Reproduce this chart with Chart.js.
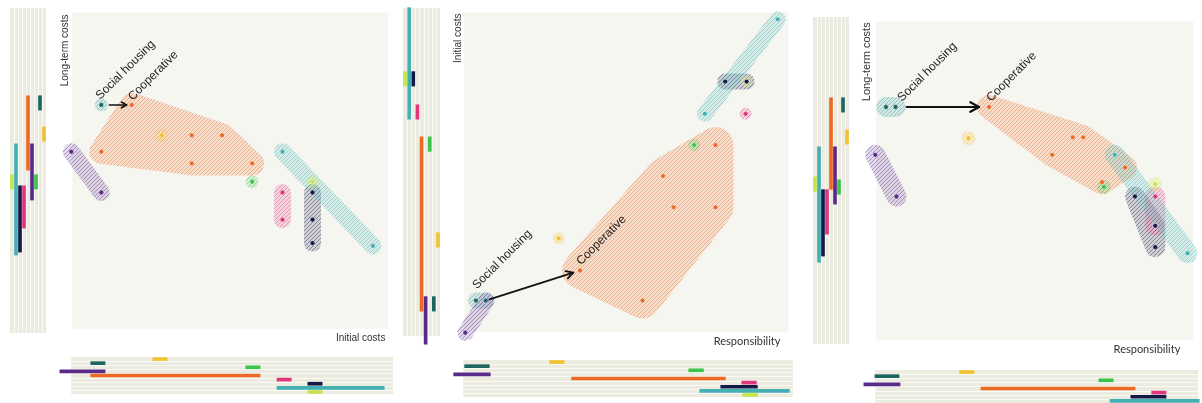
<!DOCTYPE html>
<html>
<head>
<meta charset="utf-8">
<script src="https://cdn.jsdelivr.net/npm/chart.js@4.4.1/dist/chart.umd.min.js"></script>
<style>
  html, body { margin: 0; padding: 0; background: #ffffff; width: 1202px; height: 403px; overflow: hidden; }
  canvas { position: absolute; }
</style>
</head>
<body>
<script>
// ---- groups -------------------------------------------------------------
const groupKeys = ['social', 'purple', 'coop', 'yellow', 'navy', 'pink', 'teal', 'green', 'lime'];
const groupColors = {
  social: '#1e6561', purple: '#5b2b8c', coop: '#ee6a24', yellow: '#f1c232',
  navy: '#15194a', pink: '#e0377c', teal: '#43b0b4', green: '#3bc44b', lime: '#c3e64c'
};
// hatch colour of each group's hull (the social housing hull reads lighter)
const hullColors = { ...groupColors, social: '#2f9a98' };
// lane order of the marginal range strips (top to bottom / right to left)
const stripOrder = ['yellow', 'social', 'green', 'purple', 'coop', 'pink', 'navy', 'teal', 'lime'];

// ---- Initial costs (x) vs Long-term costs (y) ----------------------------
const costGroup = ['social', 'coop', 'coop', 'coop', 'coop', 'coop', 'coop', 'yellow', 'purple', 'purple',
                   'green', 'pink', 'pink', 'navy', 'navy', 'navy', 'teal', 'teal', 'lime'];
const costX = [9.2, 18.8, 37.8, 47.4, 9.2, 37.8, 56.9, 28.3, -0.3, 9.2,
               56.9, 66.5, 66.5, 76.0, 76.0, 76.0, 66.5, 95.1, 76.0];
const costY = [70.8, 70.8, 61.2, 61.2, 56.0, 52.3, 52.3, 61.2, 56.0, 43.1,
               46.5, 43.1, 34.5, 43.1, 34.5, 27.1, 56.0, 26.2, 46.5];

// ---- Responsibility (x) vs Initial costs (y) -----------------------------
const respInitGroup = ['social', 'social', 'purple', 'purple', 'coop', 'coop', 'coop', 'coop', 'coop', 'coop',
                       'yellow', 'navy', 'navy', 'pink', 'teal', 'teal', 'green', 'lime'];
const respInitX = [3.6, 6.6, 6.9, 0.3, 35.7, 61.3, 77.5, 64.6, 77.5, 55.0,
                   29.1, 80.5, 87.1, 86.8, 96.7, 74.2, 70.9, 87.1];
const respInitY = [9.8, 9.8, 9.8, -0.3, 19.2, 48.8, 58.5, 39.0, 39.0, 9.8,
                   29.3, 78.4, 78.4, 68.3, 97.9, 68.3, 58.5, 78.4];

// ---- Responsibility (x) vs Long-term costs (y) ---------------------------
const respLongGroup = ['social', 'social', 'purple', 'purple', 'coop', 'coop', 'coop', 'coop', 'coop', 'coop',
                       'yellow', 'navy', 'navy', 'navy', 'pink', 'pink', 'teal', 'teal', 'green', 'lime'];
const respLongX = [3.1, 6.1, -0.3, 6.4, 35.6, 62.0, 65.3, 55.5, 78.5, 71.2,
                   29.1, 81.6, 88.0, 88.0, 88.0, 88.0, 75.2, 98.2, 71.8, 88.0];
const respLongY = [73.1, 73.1, 58.1, 45.0, 73.1, 63.6, 63.6, 58.1, 54.1, 49.5,
                   63.3, 45.0, 35.8, 29.1, 45.0, 35.8, 58.1, 27.2, 48.0, 48.9];

const annotationText = { social: 'Social housing', coop: 'Cooperative' };

// ---- panel layout -------------------------------------------------------
const panels = [
  {
    xTitle: 'Initial costs', yTitle: 'Long-term costs',
    group: costGroup, xs: costX, ys: costY,
    bg: { x: 68, y: 8, w: 325, h: 325 }, main: { x: 47, y: 0, w: 353, h: 356 },
    left: { x: 10, w: 36 }, bottom: { y: 357, h: 37 },
    pad: { base: 8.5, coop: 12, single: 6.5 },
    arrow: { width: 1.6, head: 6, trimStart: 8, trimEnd: 5 },
    socialLabel: { dx: -1, dy: -5 }, coopLabel: { dx: 1, dy: -4 },
    yTitleDx: -7, yTitleTop: 2, yTitleFont: '10px "Liberation Sans", Arial, sans-serif',
    xTitleDx: -3, xTitleDy: 9, xTitleFont: '10px "Liberation Sans", Arial, sans-serif'
  },
  {
    xTitle: 'Responsibility', yTitle: 'Initial costs',
    group: respInitGroup, xs: respInitX, ys: respInitY,
    bg: { x: 460, y: 8, w: 333, h: 328 }, main: { x: 441, y: 0, w: 361, h: 359 },
    left: { x: 403, w: 37 }, bottom: { y: 360, h: 37 },
    pad: { base: 8, coop: 18, single: 6 },
    arrow: { width: 1.8, head: 8, trimStart: 4, trimEnd: 7 },
    socialLabel: { dx: 1, dy: -11 }, coopLabel: { dx: 1, dy: -5 },
    yTitleDx: -6, yTitleTop: 1, yTitleFont: '10px "Liberation Sans", Arial, sans-serif',
    xTitleDx: -8, xTitleDy: 10, xTitleFont: '11px Lato, "Open Sans", sans-serif'
  },
  {
    xTitle: 'Responsibility', yTitle: 'Long-term costs',
    group: respLongGroup, xs: respLongX, ys: respLongY,
    bg: { x: 872, y: 17, w: 326, h: 327 }, main: { x: 850, y: 0, w: 352, h: 368 },
    left: { x: 813, w: 36 }, bottom: { y: 370, h: 37 },
    pad: { base: 10, coop: 12, single: 7 },
    arrow: { width: 2.2, head: 10, trimStart: 11, trimEnd: 10 },
    socialLabel: { dx: 16, dy: -5 }, coopLabel: { dx: 2, dy: -5 },
    yTitleDx: -9, yTitleTop: 1, yTitleFont: '11px "Liberation Sans", Arial, sans-serif',
    xTitleDx: -13, xTitleDy: 10, xTitleFont: '11px Lato, "Open Sans", sans-serif'
  }
];

const MAIN_BG = '#f6f6f1';
const STRIP_BG = '#ebebe0';
const STRIP_LINE = '#fafaf6';
const RANGE_PAD = 2.2;   // half-width of a range bar beyond its extreme points (data units)

function rgba(hex, a) {
  const n = parseInt(hex.slice(1), 16);
  return `rgba(${(n >> 16) & 255},${(n >> 8) & 255},${n & 255},${a})`;
}

function convexHull(points) {
  const pts = points.slice().sort((a, b) => a.x - b.x || a.y - b.y);
  if (pts.length < 3) return pts;
  const cross = (o, a, b) => (a.x - o.x) * (b.y - o.y) - (a.y - o.y) * (b.x - o.x);
  const lower = [];
  for (const p of pts) {
    while (lower.length >= 2 && cross(lower[lower.length - 2], lower[lower.length - 1], p) <= 0) lower.pop();
    lower.push(p);
  }
  const upper = [];
  for (let i = pts.length - 1; i >= 0; i--) {
    const p = pts[i];
    while (upper.length >= 2 && cross(upper[upper.length - 2], upper[upper.length - 1], p) <= 0) upper.pop();
    upper.push(p);
  }
  upper.pop(); lower.pop();
  return lower.concat(upper);
}

function makeCanvas(x, y, w, h) {
  const c = document.createElement('canvas');
  c.width = w; c.height = h;
  c.style.left = x + 'px'; c.style.top = y + 'px';
  c.style.width = w + 'px'; c.style.height = h + 'px';
  document.body.appendChild(c);
  return c;
}

function groupRange(p, key, values) {
  const v = values.filter((_, i) => p.group[i] === key);
  return [Math.min(...v) - RANGE_PAD, Math.max(...v) + RANGE_PAD];
}

const baseOptions = {
  responsive: false, animation: false, devicePixelRatio: 1,
  layout: { padding: 0 },
  plugins: { legend: { display: false }, tooltip: { enabled: false } },
  events: []
};

panels.forEach(p => {
  // scale limits so that 0..100 spans the shaded plotting field
  const xMin = (p.main.x - p.bg.x) / p.bg.w * 100;
  const xMax = (p.main.x + p.main.w - p.bg.x) / p.bg.w * 100;
  const yMax = 100 + (p.bg.y - p.main.y) / p.bg.h * 100;
  const yMin = 100 - (p.main.y + p.main.h - p.bg.y) / p.bg.h * 100;

  // ---------- main scatter ----------
  const datasets = groupKeys.map(k => ({
    label: k,
    data: p.group.map((g, i) => g === k ? { x: p.xs[i], y: p.ys[i] } : null).filter(Boolean),
    backgroundColor: groupColors[k],
    borderColor: rgba('#ffffff', 0.5),
    borderWidth: 0.8,
    pointRadius: 2.4,
    clip: false
  }));

  const fieldPlugin = {
    id: 'field',
    beforeDatasetsDraw(chart) {
      const { ctx, scales } = chart;
      const x0 = scales.x.getPixelForValue(0), x1 = scales.x.getPixelForValue(100);
      const y0 = scales.y.getPixelForValue(100), y1 = scales.y.getPixelForValue(0);
      ctx.save();
      ctx.fillStyle = MAIN_BG;
      ctx.fillRect(x0, y0, x1 - x0, y1 - y0);
      ctx.restore();
    }
  };

  // hatched, rounded hull around every group's points
  const hullPlugin = {
    id: 'groupHulls',
    beforeDatasetsDraw(chart) {
      const { ctx } = chart;
      const W = chart.canvas.width, H = chart.canvas.height;
      const off = document.createElement('canvas');
      off.width = W; off.height = H;
      const o = off.getContext('2d');
      const m = document.createElement('canvas');
      m.width = W; m.height = H;
      const mc = m.getContext('2d');
      chart.data.datasets.forEach((ds, i) => {
        const meta = chart.getDatasetMeta(i);
        const pts = meta.data.map(el => ({ x: el.x, y: el.y }));
        if (!pts.length) return;
        const key = ds.label;
        const col = hullColors[key];
        const r = pts.length === 1 ? p.pad.single : (key === 'coop' ? p.pad.coop : p.pad.base);
        // texture: light tint plus diagonal hatching
        o.globalCompositeOperation = 'source-over';
        o.clearRect(0, 0, W, H);
        o.fillStyle = rgba(col, 0.17);
        o.fillRect(0, 0, W, H);
        o.strokeStyle = rgba(col, 0.42);
        o.lineWidth = 1; o.lineCap = 'butt';
        o.beginPath();
        for (let s = -H; s < W + H; s += 4) { o.moveTo(s, H); o.lineTo(s + H, 0); }
        o.stroke();
        // rounded hull mask: hull polygon widened by radius r
        mc.clearRect(0, 0, W, H);
        mc.fillStyle = '#000'; mc.strokeStyle = '#000';
        mc.lineJoin = 'round'; mc.lineCap = 'round'; mc.lineWidth = 2 * r;
        const hull = convexHull(pts);
        mc.beginPath();
        if (hull.length === 1) {
          mc.arc(hull[0].x, hull[0].y, r, 0, Math.PI * 2);
          mc.fill();
        } else {
          mc.moveTo(hull[0].x, hull[0].y);
          for (let j = 1; j < hull.length; j++) mc.lineTo(hull[j].x, hull[j].y);
          mc.closePath();
          mc.fill(); mc.stroke();
        }
        o.globalCompositeOperation = 'destination-in';
        o.drawImage(m, 0, 0);
        o.globalCompositeOperation = 'source-over';
        ctx.drawImage(off, 0, 0);
      });
    }
  };

  const annotatePlugin = {
    id: 'annotate',
    afterDatasetsDraw(chart) {
      const { ctx, scales } = chart;
      const metaOf = k => chart.getDatasetMeta(groupKeys.indexOf(k));
      const soc = metaOf('social').data;
      const socFirst = soc[0];
      const socLast = soc.reduce((a, b) => (b.x > a.x ? b : a), soc[0]);
      const coop = metaOf('coop').data[0];
      ctx.save();
      // arrow from social housing to cooperative
      const dx = coop.x - socLast.x, dy = coop.y - socLast.y;
      const len = Math.hypot(dx, dy), ux = dx / len, uy = dy / len;
      const sx = socLast.x + ux * p.arrow.trimStart, sy = socLast.y + uy * p.arrow.trimStart;
      const ex = coop.x - ux * p.arrow.trimEnd, ey = coop.y - uy * p.arrow.trimEnd;
      ctx.strokeStyle = '#111'; ctx.lineWidth = p.arrow.width;
      ctx.lineCap = 'round'; ctx.lineJoin = 'round';
      ctx.beginPath(); ctx.moveTo(sx, sy); ctx.lineTo(ex, ey); ctx.stroke();
      const a = Math.atan2(uy, ux), h = p.arrow.head, spread = 0.5;
      ctx.beginPath();
      ctx.moveTo(ex - h * Math.cos(a - spread), ey - h * Math.sin(a - spread));
      ctx.lineTo(ex, ey);
      ctx.lineTo(ex - h * Math.cos(a + spread), ey - h * Math.sin(a + spread));
      ctx.stroke();
      // slanted labels
      ctx.fillStyle = '#222';
      ctx.font = '12px "Liberation Sans", Arial, sans-serif';
      ctx.textAlign = 'left'; ctx.textBaseline = 'alphabetic';
      [[socFirst, p.socialLabel, annotationText.social], [coop, p.coopLabel, annotationText.coop]].forEach(([el, off, txt]) => {
        ctx.save();
        ctx.translate(el.x + off.dx, el.y + off.dy);
        ctx.rotate(-Math.PI / 4);
        ctx.fillText(txt, 0, 0);
        ctx.restore();
      });
      // axis titles
      const left = scales.x.getPixelForValue(0), right = scales.x.getPixelForValue(100);
      const top = scales.y.getPixelForValue(100), bottom = scales.y.getPixelForValue(0);
      ctx.fillStyle = '#333';
      ctx.font = p.yTitleFont;
      ctx.save();
      ctx.translate(left + p.yTitleDx, top + p.yTitleTop);
      ctx.rotate(-Math.PI / 2);
      ctx.textAlign = 'right'; ctx.textBaseline = 'middle';
      ctx.fillText(p.yTitle, 0, 0);
      ctx.restore();
      ctx.font = p.xTitleFont;
      ctx.textAlign = 'right'; ctx.textBaseline = 'middle';
      ctx.fillText(p.xTitle, right + p.xTitleDx, bottom + p.xTitleDy);
      ctx.restore();
    }
  };

  new Chart(makeCanvas(p.main.x, p.main.y, p.main.w, p.main.h), {
    type: 'scatter',
    data: { datasets },
    options: {
      ...baseOptions,
      scales: {
        x: { type: 'linear', display: false, min: xMin, max: xMax },
        y: { type: 'linear', display: false, min: yMin, max: yMax }
      }
    },
    plugins: [fieldPlugin, hullPlugin, annotatePlugin]
  });

  // ---------- vertical range strip (y extent of each group) ----------
  const leftOrder = stripOrder.slice().reverse();
  const vLanes = {
    id: 'vLanes',
    beforeDatasetsDraw(chart) {
      const { ctx, chartArea, scales } = chart;
      const t = scales.y.getPixelForValue(100), b = scales.y.getPixelForValue(0);
      const n = leftOrder.length, w = (chartArea.right - chartArea.left) / n;
      ctx.save();
      ctx.fillStyle = STRIP_BG;
      ctx.fillRect(chartArea.left, t, chartArea.right - chartArea.left, b - t);
      ctx.strokeStyle = STRIP_LINE; ctx.lineWidth = 1;
      for (let i = 1; i < n; i++) {
        const x = Math.round(chartArea.left + i * w) + 0.5;
        ctx.beginPath(); ctx.moveTo(x, t); ctx.lineTo(x, b); ctx.stroke();
      }
      ctx.restore();
    }
  };
  new Chart(makeCanvas(p.left.x, p.main.y, p.left.w, p.main.h), {
    type: 'bar',
    data: {
      labels: leftOrder,
      datasets: [{
        data: leftOrder.map(k => groupRange(p, k, p.ys)),
        backgroundColor: leftOrder.map(k => groupColors[k]),
        borderWidth: 0, barThickness: 3, borderSkipped: false
      }]
    },
    options: {
      ...baseOptions,
      scales: {
        x: { type: 'category', display: false, offset: true },
        y: { type: 'linear', display: false, min: yMin, max: yMax }
      }
    },
    plugins: [vLanes]
  });

  // ---------- horizontal range strip (x extent of each group) ----------
  const hLanes = {
    id: 'hLanes',
    beforeDatasetsDraw(chart) {
      const { ctx, chartArea, scales } = chart;
      const l = scales.x.getPixelForValue(1), r = scales.x.getPixelForValue(100);
      const n = stripOrder.length, h = (chartArea.bottom - chartArea.top) / n;
      ctx.save();
      ctx.fillStyle = STRIP_BG;
      ctx.fillRect(l, chartArea.top, r - l, chartArea.bottom - chartArea.top);
      ctx.strokeStyle = STRIP_LINE; ctx.lineWidth = 1;
      for (let i = 1; i < n; i++) {
        const y = Math.round(chartArea.top + i * h) + 0.5;
        ctx.beginPath(); ctx.moveTo(l, y); ctx.lineTo(r, y); ctx.stroke();
      }
      ctx.restore();
    }
  };
  new Chart(makeCanvas(p.main.x, p.bottom.y, p.main.w, p.bottom.h), {
    type: 'bar',
    data: {
      labels: stripOrder,
      datasets: [{
        data: stripOrder.map(k => groupRange(p, k, p.xs)),
        backgroundColor: stripOrder.map(k => groupColors[k]),
        borderWidth: 0, barThickness: 3, borderSkipped: false
      }]
    },
    options: {
      ...baseOptions,
      indexAxis: 'y',
      scales: {
        x: { type: 'linear', display: false, min: xMin, max: xMax },
        y: { type: 'category', display: false, offset: true }
      }
    },
    plugins: [hLanes]
  });
});
</script>
</body>
</html>
